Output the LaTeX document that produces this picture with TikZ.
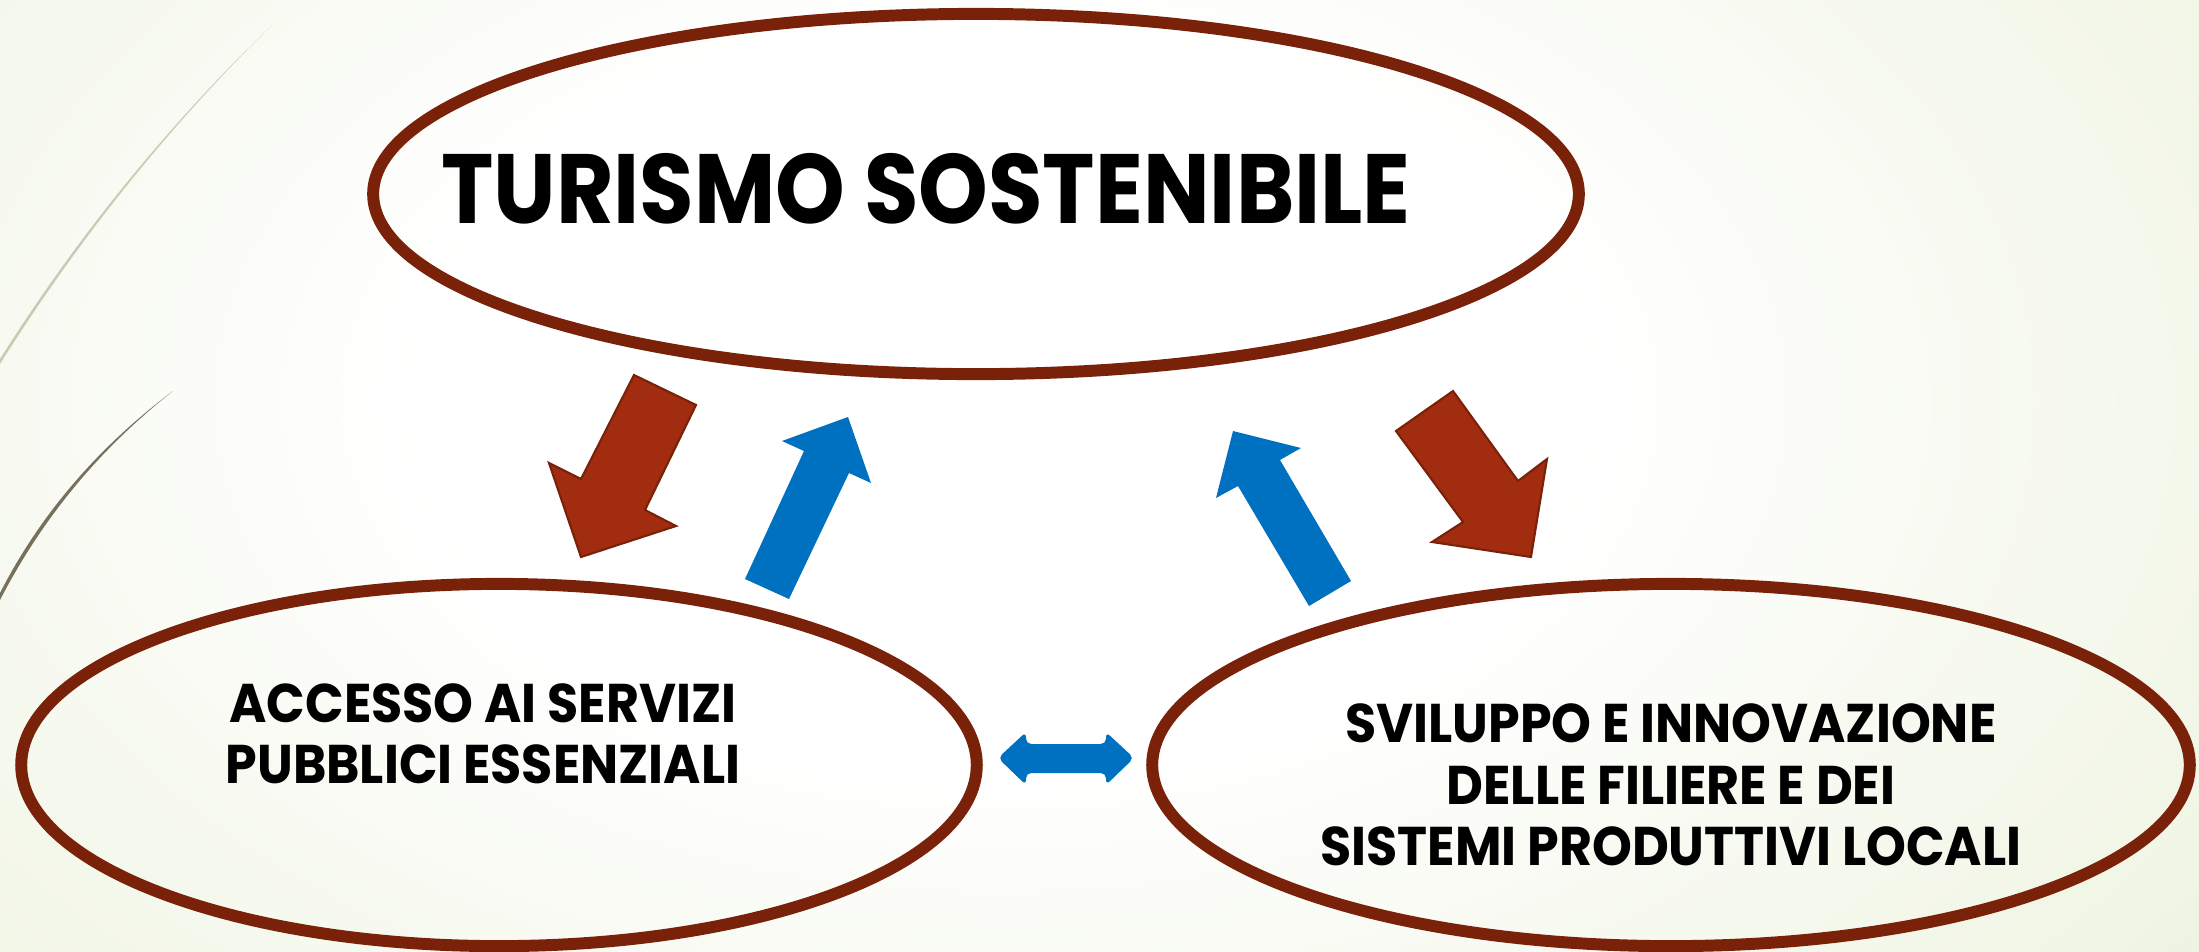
\documentclass[tikz,border=0pt]{standalone}
\usepackage{fontspec}
\setmainfont{Poppins}[FakeStretch=0.93]
\newfontfamily\titlefont{Poppins}[FakeStretch=0.9]
\usepackage{xcolor}
\usetikzlibrary{shapes.geometric}

\definecolor{ovalRed}{HTML}{7A2209}
\definecolor{arrowRed}{HTML}{A12C0F}
\definecolor{arrowBlue}{HTML}{0070C0}
\definecolor{bgGreen}{HTML}{DFE9C4}
\definecolor{swooshLight}{HTML}{C8CCB4}
\definecolor{swooshDark}{HTML}{77705C}

\pgfdeclareradialshading{slidebg}{\pgfpoint{0bp}{0bp}}{color(0bp)=(white); color(12bp)=(white); color(50bp)=(bgGreen); color(80bp)=(bgGreen)}

\begin{document}
\begin{tikzpicture}[
  x=0.01cm, y=-0.01cm,
  oval/.style={ellipse, draw=ovalRed, line width=3.4pt, inner sep=0pt},
  ovaltext/.style={font=\bfseries\fontsize{15.5}{17.5}\selectfont, align=center},
  redblock/.style={fill=arrowRed, draw=ovalRed, line width=0.6pt},
  blueblock/.style={fill=arrowBlue}
]
  \useasboundingbox (0,0) rectangle (2199,951);
  \begin{scope}
    \clip (0,0) rectangle (2199,951);
    \shade[shading=slidebg] (-200,-350) rectangle (2200,1150);
  \end{scope}

  % swooshes on the left edge
  \fill[swooshLight] (272,25) .. controls (168,127) and (78,240) .. (0,364) -- (0,359) .. controls (77,237) and (167,126) .. (272,25) -- cycle;
  \fill[swooshDark] (173,391) .. controls (102,447) and (44,515) .. (0,600) -- (0,593) .. controls (42,511) and (101,445) .. (173,391) -- cycle;

  % ovals
  \node[oval, minimum width=12.05cm, minimum height=3.60cm] (turismo) at (976,194) {};
  \node[font=\titlefont\bfseries\fontsize{28}{30}\selectfont] (title) at (926,189) {TURISMO SOSTENIBILE};
  \node[oval, minimum width=9.55cm, minimum height=3.62cm] (servizi) at (499,765) {};
  \node[ovaltext] (servizitxt) at (483,734) {ACCESSO AI SERVIZI\\PUBBLICI ESSENZIALI};
  \node[oval, minimum width=10.37cm, minimum height=3.62cm] (filiere) at (1671,765) {};
  \node[ovaltext] (filieretxt) at (1671,785) {SVILUPPO E INNOVAZIONE\\DELLE FILIERE E DEI\\SISTEMI PRODUTTIVI LOCALI};

  % block arrows
  \draw[redblock] (634,375) -- (696,405) -- (645,510) -- (676,526) -- (581,557) -- (549,463) -- (581,479) -- cycle;
  \fill[blueblock] (745,579) -- (789,599) -- (849,473) -- (871,483) -- (848,417) -- (782,441) -- (804,451) -- cycle;
  \fill[blueblock] (1309,606) -- (1351,581) -- (1280,460) -- (1301,448) -- (1233,431) -- (1216,498) -- (1238,486) -- cycle;
  \draw[redblock] (1396,431) -- (1453,391) -- (1518,481) -- (1547,459) -- (1531,557) -- (1432,542) -- (1463,522) -- cycle;
  \fill[blueblock, rounded corners=1.5pt] (998,758) -- (1026,732) -- (1026,744) -- (1106,744) -- (1106,732) -- (1134,758) -- (1106,785) -- (1106,773) -- (1026,773) -- (1026,785) -- cycle;
\end{tikzpicture}
\end{document}
